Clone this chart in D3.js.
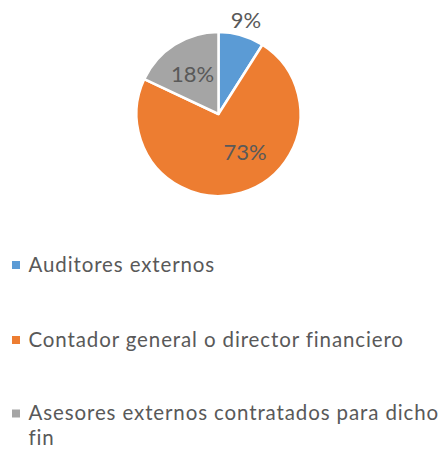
<!DOCTYPE html>
<html><head><meta charset="utf-8">
<script src="https://cdn.jsdelivr.net/npm/d3@7"></script>
<style>body{margin:0;background:#fff}svg{display:block}</style>
</head><body>
<script>
const categories = ["Auditores externos", "Contador general o director financiero", "Asesores externos contratados para dicho fin"];
const values = [9, 73, 18];
const labels = ["9%", "73%", "18%"];
const colors = ["#5B9BD5", "#ED7D31", "#A5A5A5"];

const W = 440, H = 451;
const svg = d3.select("body").append("svg").attr("width", W).attr("height", H);
const font = "Lato, Calibri, sans-serif";
const textColor = "#595959";

const cx = 218.5, cy = 114, r = 82;
const pie = d3.pie().sort(null).value(d => d)(values);
const arc = d3.arc().innerRadius(0).outerRadius(r);
const g = svg.append("g").attr("transform", `translate(${cx},${cy})`);
g.selectAll("path").data(pie).join("path")
  .attr("d", arc).attr("fill", (d, i) => colors[i])
  .attr("stroke", "#fff").attr("stroke-width", 2.5).attr("stroke-linejoin", "round");

// label placement: radius factor and angle shift (degrees) per slice (best-fit style)
const labelRadius = [1.2, 0.56, 0.59];
const labelShift = [0, -19, 0];
const labelPos = pie.map((d, i) => {
  const a = (d.startAngle + d.endAngle) / 2 + labelShift[i] * Math.PI / 180;
  const rr = r * labelRadius[i];
  return [Math.sin(a) * rr, -Math.cos(a) * rr];
});
g.selectAll("text.lbl").data(pie).join("text").attr("class", "lbl")
  .attr("x", (d, i) => labelPos[i][0]).attr("y", (d, i) => labelPos[i][1])
  .attr("text-anchor", "middle").attr("dominant-baseline", "central")
  .attr("font-family", font).attr("font-size", 22).attr("fill", textColor)
  .text((d, i) => labels[i]);

// legend
const fs = 20.5;
const legend = svg.append("g");
const rows = [
  { lines: [categories[0]], y: 271.5 },
  { lines: [categories[1]], y: 346.5 },
  { lines: ["Asesores externos contratados para dicho", "fin"], y: 420 }
];
rows.forEach((row, i) => {
  legend.append("rect").attr("x", 12).attr("y", row.y - 10.5).attr("width", 8).attr("height", 8).attr("fill", colors[i]);
  const t = legend.append("text").attr("x", 28.5).attr("y", row.y)
    .attr("font-family", font).attr("font-size", fs).attr("fill", textColor);
  row.lines.forEach((ln, j) => {
    t.append("tspan").attr("x", 28.5).attr("y", row.y + j * 25).text(ln);
  });
});
// fit widths to reference via letter-spacing
const tn = legend.selectAll("text").filter(function(){ return this.textContent === categories[1]; }).node();
const w = tn.getComputedTextLength();
const ls = Math.max(0, (375 - w) / categories[1].length);
legend.selectAll("text").attr("letter-spacing", ls);
</script>
</body></html>
